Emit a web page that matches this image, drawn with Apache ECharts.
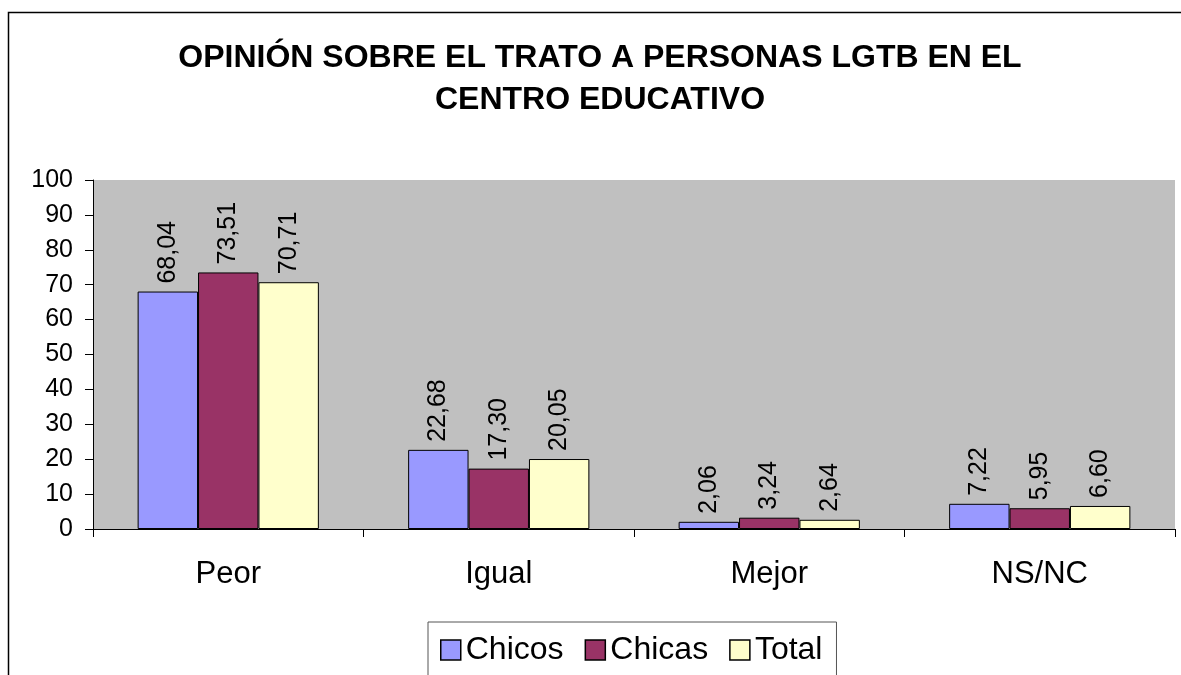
<!DOCTYPE html>
<html>
<head>
<meta charset="utf-8">
<title>Opinión sobre el trato a personas LGTB</title>
<script src="https://cdn.jsdelivr.net/npm/echarts@6/dist/echarts.min.js"></script>
<style>
  html, body { margin: 0; padding: 0; background: #fff; }
  #chart { width: 1181px; height: 675px; }
</style>
</head>
<body>
<div id="chart"></div>
<script>
// datos
const categorias = ['Peor', 'Igual', 'Mejor', 'NS/NC']
const chicos = [68.04, 22.68, 2.06, 7.22]
const chicas = [73.51, 17.30, 3.24, 5.95]
const total = [70.71, 20.05, 2.64, 6.60]
const ticksY = { min: 0, max: 100, interval: 10 }

const fuente = "'Liberation Sans', Arial, sans-serif"

const chart = echarts.init(document.getElementById('chart'), null, { renderer: 'canvas' })

function serie(name, data, color) {
  return {
    name: name,
    type: 'bar',
    data: data,
    barGap: '0%',
    barCategoryGap: '33%',
    itemStyle: {
      color: color,
      borderColor: '#000',
      borderWidth: 1
    },
    label: {
      show: true,
      position: 'top',
      rotate: 90,
      align: 'left',
      verticalAlign: 'middle',
      distance: 8,
      color: '#000',
      fontFamily: fuente,
      fontSize: 25,
      formatter: p => p.value.toFixed(2).replace('.', ',')
    }
  }
}

chart.setOption({
  animation: false,
  backgroundColor: '#fff',
  title: {
    text: 'OPINIÓN SOBRE EL TRATO A PERSONAS LGTB EN EL\nCENTRO EDUCATIVO',
    left: 600,
    textAlign: 'center',
    top: 37,
    padding: 0,
    textStyle: {
      fontFamily: fuente,
      fontWeight: 'bold',
      fontSize: 32,
      lineHeight: 42,
      color: '#000'
    }
  },
  graphic: [{
    type: 'rect',
    shape: { x: 8.5, y: 12.5, width: 1200, height: 700 },
    style: { fill: 'none', stroke: '#000', lineWidth: 1.5 },
    silent: true
  }],
  legend: {
    data: ['Chicos', 'Chicas', 'Total'],
    left: 428,
    top: 622,
    padding: [12, 14, 12, 12],
    borderColor: '#555',
    borderWidth: 1,
    itemWidth: 20,
    itemHeight: 20,
    itemGap: 21,
    icon: 'rect',
    itemStyle: { borderColor: '#000', borderWidth: 1.5 },
    textStyle: {
      fontFamily: fuente,
      fontSize: 32,
      color: '#000'
    }
  },
  grid: {
    left: 93,
    top: 180,
    right: 6,
    bottom: 146,
    show: true,
    backgroundColor: '#c0c0c0',
    borderWidth: 0
  },
  xAxis: {
    type: 'category',
    data: categorias,
    axisLine: { lineStyle: { color: '#000', width: 1 } },
    axisTick: { show: true, length: 8, lineStyle: { color: '#000' } },
    axisLabel: {
      margin: 30,
      color: '#000',
      fontFamily: fuente,
      fontSize: 31
    }
  },
  yAxis: {
    type: 'value',
    min: ticksY.min,
    max: ticksY.max,
    interval: ticksY.interval,
    splitLine: { show: false },
    axisLine: { show: true, lineStyle: { color: '#000', width: 1 } },
    axisTick: { show: true, length: 8, lineStyle: { color: '#000' } },
    axisLabel: {
      margin: 20,
      color: '#000',
      fontFamily: fuente,
      fontSize: 25
    }
  },
  series: [
    serie('Chicos', chicos, '#9999ff'),
    serie('Chicas', chicas, '#993366'),
    serie('Total', total, '#ffffcc')
  ]
})
</script>
</body>
</html>
